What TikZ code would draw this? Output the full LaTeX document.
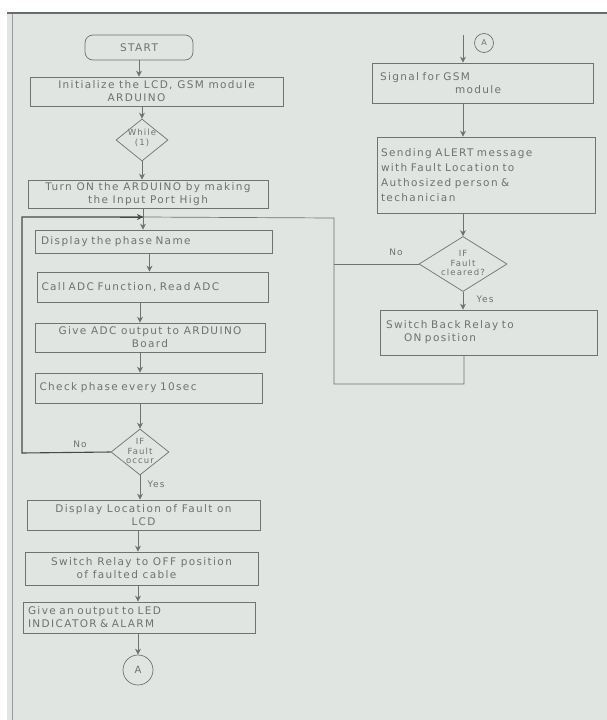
\documentclass[tikz,border=0pt]{standalone}
\usepackage{fontspec}
\setmainfont{DejaVu Sans}[LetterSpace=13]
\usetikzlibrary{shapes.geometric,arrows.meta}
\definecolor{paper}{HTML}{E0E5E1}
\definecolor{pencil}{HTML}{6E7270}
\definecolor{ink}{HTML}{464948}
\tikzset{
  every node/.style={text=pencil},
  stepbox/.style={draw=pencil, line width=0.7pt, rectangle, inner sep=2pt,
    font=\fontsize{10.5}{13}\selectfont},
  decide/.style={draw=pencil, line width=0.7pt, diamond, inner sep=0pt},
  dtext/.style={inner sep=0pt, font=\fontsize{8.5}{9.5}\selectfont, align=center},
  conn/.style={circle, draw=pencil, line width=0.7pt, inner sep=0pt,
    font=\fontsize{10}{12}\selectfont},
  flow/.style={draw=pencil, line width=0.7pt, -{Stealth[length=6pt,width=6pt]}},
  wire/.style={draw=pencil, line width=0.7pt},
  loopline/.style={draw=ink, line width=1.1pt},
  tag/.style={font=\fontsize{9}{11}\selectfont},
}
\begin{document}
\begin{tikzpicture}[x=1pt,y=-1pt]
  \useasboundingbox (0,0) rectangle (607,720);
  % sheet of paper
  \fill[white] (0,0) rectangle (607,720);
  \fill[paper] (7,12) rectangle (607,720);
  \draw[ink!80, line width=1.5pt] (7,13) -- (607,13);
  \draw[pencil!70, line width=0.5pt] (12,14) -- (12,720);

  % ---------- left column ----------
  \node[stepbox, rounded corners=8pt, minimum width=108pt, minimum height=25pt]
    (start) at (139,47.5) {START};
  \node[stepbox, minimum width=253pt, minimum height=29pt, align=center]
    (init) at (156.5,91.5) {Initialize the LCD, GSM module\\ARDUINO\hspace*{40pt}};
  \node[decide, minimum width=52pt, minimum height=42pt] (while) at (142,140) {};
  \node[dtext] (whiletxt) at (142,138) {While\\(1)};
  \node[stepbox, minimum width=240pt, minimum height=28pt, align=center]
    (turnon) at (148,194) {Turn ON the ARDUINO by making\\the Input Port High};
  \node[stepbox, minimum width=237pt, minimum height=23pt, text width=225pt, align=left]
    (display) at (153.5,241.5) {Display the phase Name};
  \node[stepbox, minimum width=231pt, minimum height=30pt, text width=222pt, align=left]
    (adc) at (152.5,287) {Call ADC Function, Read ADC};
  \node[stepbox, minimum width=230pt, minimum height=29pt, align=center]
    (give) at (150,337.5) {Give ADC output to ARDUINO\\Board};
  \node[stepbox, minimum width=227pt, minimum height=30pt, text width=218pt, align=left]
    (check) at (148.5,388) {Check phase every 10sec};
  \node[decide, minimum width=58pt, minimum height=46pt] (fault) at (140,452) {};
  \node[dtext] (faulttxt) at (140,451) {IF\\Fault\\occur};
  \node[stepbox, minimum width=233pt, minimum height=30pt, align=center]
    (loc) at (143.5,515) {Display Location of Fault on\\LCD};
  \node[stepbox, minimum width=233pt, minimum height=33pt, align=center]
    (relay) at (141.5,568.5) {Switch Relay to OFF position\\of faulted cable\hspace*{30pt}};
  \node[stepbox, minimum width=232pt, minimum height=31pt, text width=222pt, align=left]
    (led) at (139,617.5) {Give an output to LED\\INDICATOR \& ALARM};
  \node[conn, minimum size=30pt] (connA) at (138,670) {A};

  \draw[flow] (start.south) -- (start.south |- init.north);
  \draw[flow] (init.south -| while.north) -- (while.north);
  \draw[flow] (while.south) -- (while.south |- turnon.north);
  \coordinate (join) at (143,217);
  \draw[wire] (turnon.south -| join) -- (join);
  \draw[flow] (join) -- (join |- display.north);
  \draw[flow] (display.south -| adc.north) ++(-3,0) coordinate (d1) -- (d1 |- adc.north);
  \draw[flow] (adc.south -| 140,0) coordinate (d2) -- (d2 |- give.north);
  \draw[flow] (give.south -| 140,0) coordinate (d3) -- (d3 |- check.north);
  \draw[flow] (check.south -| fault.north) -- (fault.north);
  \draw[flow] (fault.south) -- (fault.south |- loc.north)
    node[tag, pos=0.35, right=4pt] {Yes};
  \draw[flow] (loc.south -| 138,0) coordinate (d4) -- (d4 |- relay.north);
  \draw[flow] (relay.south -| 138,0) coordinate (d5) -- (d5 |- led.north);
  \draw[flow] (led.south -| connA.north) -- (connA.north);

  % loop back when no fault is found
  \coordinate (lcorner) at (22,453);
  \coordinate (ltop) at (22,217);
  \draw[loopline] (fault.west) -- (lcorner) -- (ltop) -- (join);
  \draw[ink, line width=0.8pt, -{Stealth[length=6pt,width=6pt]}] (120,217) -- (join);
  \node[tag] (nol) at (80,444) {No};

  % ---------- right column ----------
  \coordinate (rtop) at (463,35);
  \node[conn, minimum size=19pt, font=\fontsize{8}{9}\selectfont] (connB) at (484,43) {A};
  \node[stepbox, minimum width=221pt, minimum height=40pt, text width=205pt, align=left]
    (signal) at (482.5,83) {Signal for GSM\\\hspace*{75pt}module};
  \node[stepbox, minimum width=218pt, minimum height=76pt, text width=210pt, align=left,
    font=\fontsize{10.5}{15}\selectfont]
    (alert) at (486,175) {Sending ALERT message\\with Fault Location to\\Authosized person \&\\techanician};
  \node[decide, minimum width=88pt, minimum height=55pt] (clear) at (463,264) {};
  \node[dtext] (cleartxt) at (463,263) {IF\\Fault\\cleared?};
  \node[stepbox, minimum width=217pt, minimum height=45pt, text width=205pt, align=left]
    (back) at (488.5,332.5) {Switch Back Relay to\\\hspace*{18pt}ON position};

  \draw[flow] (rtop) -- (rtop |- signal.north);
  \draw[flow] (signal.south -| rtop) -- (rtop |- alert.north);
  \draw[flow] (alert.south -| clear.north) -- (clear.north);
  \draw[flow] (clear.south) -- (clear.south |- back.north)
    node[tag, pos=0.4, right=10pt] {Yes};

  % return path to the phase check
  \coordinate (rbottom) at (464,384);
  \coordinate (rcorner) at (334,384);
  \coordinate (rtopc) at (334,218);
  \draw[wire] (back.south -| rbottom) -- (rbottom) -- (rcorner) -- (rtopc) -- (join);
  \draw[wire] (clear.west) -- (clear.west -| rcorner);
  \node[tag] (nor) at (396,252) {No};
\end{tikzpicture}
\end{document}
